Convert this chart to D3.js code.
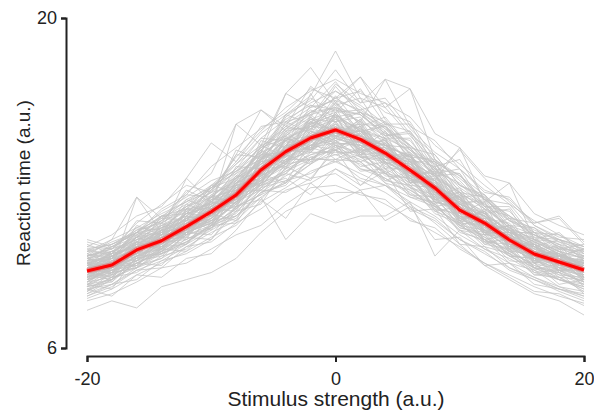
<!DOCTYPE html>
<html>
<head>
<meta charset="utf-8">
<script src="https://cdn.jsdelivr.net/npm/d3@7"></script>
<style>
  html, body { margin: 0; padding: 0; background: #fff; }
  svg { display: block; }
  text { font-family: "Liberation Sans", Arial, Helvetica, sans-serif; fill: #222; }
</style>
</head>
<body>
<svg id="chart" width="594" height="411"></svg>
<script>
// Stimulus levels (a.u.)
const stimulus = [-20, -18, -16, -14, -12, -10, -8, -6, -4, -2, 0, 2, 4, 6, 8, 10, 12, 14, 16, 18, 20];

// Average reaction time across trials
const meanRT = [9.27, 9.52, 10.16, 10.55, 11.15, 11.78, 12.49, 13.55, 14.33, 14.91, 15.25,
                14.85, 14.27, 13.55, 12.79, 11.85, 11.30, 10.58, 9.99, 9.65, 9.31];

// Single-trial reaction times, one row per trial
const trialRT = [
  [9.6, 9.9, 10.3, 11.0, 11.4, 12.3, 12.8, 14.0, 14.6, 15.5, 15.9, 15.2, 14.8, 13.9, 13.3, 12.1, 11.7, 10.9, 10.4, 9.9, 9.6],
  [8.7, 9.1, 9.6, 10.1, 10.6, 11.2, 11.9, 12.8, 13.6, 14.1, 14.4, 14.0, 13.5, 12.9, 12.1, 11.3, 10.7, 10.1, 9.5, 9.2, 8.8],
  [9.3, 9.0, 10.5, 10.2, 11.6, 11.3, 12.9, 13.2, 14.9, 14.5, 15.8, 14.3, 14.9, 13.0, 13.2, 11.4, 11.8, 10.2, 10.3, 9.4, 9.5],
  [9.9, 10.2, 10.6, 11.2, 11.8, 12.4, 13.3, 14.2, 15.0, 15.7, 16.1, 15.6, 15.0, 14.3, 13.4, 12.6, 11.9, 11.1, 10.6, 10.1, 9.8],
  [8.4, 8.9, 9.5, 9.8, 10.4, 11.0, 11.6, 12.6, 13.3, 13.9, 14.2, 13.8, 13.2, 12.6, 11.9, 11.0, 10.5, 9.9, 9.3, 8.9, 8.6],
  [9.1, 9.7, 10.0, 10.8, 10.9, 11.9, 12.2, 13.9, 14.1, 15.3, 15.0, 15.2, 14.0, 13.8, 12.5, 12.0, 11.1, 10.8, 9.8, 9.9, 9.1],
  [9.5, 9.4, 10.4, 10.4, 11.3, 11.6, 12.7, 13.4, 14.6, 14.7, 15.5, 14.6, 14.5, 13.3, 13.0, 11.6, 11.5, 10.3, 10.2, 9.5, 9.4],
  [10.2, 10.4, 11.0, 11.5, 12.1, 12.8, 13.6, 14.5, 15.4, 16.0, 16.6, 16.0, 15.3, 14.6, 13.8, 12.8, 12.1, 11.4, 10.8, 10.4, 10.1],
  [8.1, 8.5, 9.1, 9.6, 10.1, 10.7, 11.2, 12.2, 12.8, 13.5, 13.9, 13.4, 12.9, 12.2, 11.6, 10.8, 10.2, 9.6, 9.0, 8.6, 8.2],
  [9.4, 9.8, 10.1, 10.7, 11.0, 11.9, 12.3, 13.7, 14.5, 16.8, 15.1, 14.9, 14.1, 13.7, 12.6, 11.9, 11.2, 10.7, 9.9, 9.8, 9.2],
  [9.0, 9.3, 9.9, 10.3, 10.9, 11.4, 12.1, 13.0, 13.9, 14.4, 14.9, 14.5, 13.8, 13.1, 12.4, 11.5, 10.9, 10.3, 9.7, 9.4, 9.0],
  [9.8, 9.6, 10.7, 10.9, 11.5, 12.3, 12.6, 14.1, 14.4, 15.4, 15.3, 15.5, 14.3, 14.0, 12.9, 12.3, 11.4, 11.0, 10.1, 10.0, 9.5],
  [8.8, 9.4, 9.8, 10.6, 10.7, 11.7, 12.0, 13.3, 13.8, 14.9, 14.6, 14.8, 13.6, 13.6, 12.2, 11.9, 10.8, 10.7, 9.6, 9.7, 8.9],
  [9.6, 10.0, 10.3, 10.9, 11.7, 12.0, 13.0, 13.6, 14.8, 15.0, 15.7, 15.0, 14.7, 13.7, 13.1, 12.0, 11.6, 10.8, 10.3, 9.8, 9.6],
  [9.2, 9.5, 10.0, 10.4, 11.2, 11.5, 12.4, 12.9, 13.2, 12.5, 13.6, 12.9, 13.9, 12.8, 12.3, 11.7, 11.1, 10.4, 9.8, 9.5, 9.3],
  [9.7, 10.1, 10.7, 11.3, 11.9, 12.6, 13.5, 14.5, 15.5, 16.2, 16.5, 16.1, 15.4, 14.6, 13.6, 12.7, 12.0, 11.1, 10.6, 10.2, 9.9],
  [8.6, 8.8, 9.7, 9.9, 10.8, 11.1, 12.0, 12.5, 13.8, 14.0, 14.7, 13.7, 13.9, 12.5, 12.4, 11.2, 11.0, 9.9, 9.8, 9.0, 8.9],
  [9.3, 9.7, 10.2, 10.6, 11.1, 11.9, 12.6, 13.5, 14.4, 15.1, 15.4, 14.8, 14.4, 13.4, 12.9, 11.8, 11.4, 10.5, 10.1, 9.6, 9.3],
  [10.0, 9.8, 10.9, 11.1, 11.9, 12.1, 13.2, 13.9, 15.3, 15.3, 16.3, 15.2, 15.4, 14.0, 13.7, 12.2, 12.2, 10.9, 10.7, 9.9, 9.9],
  [8.9, 9.2, 9.7, 10.2, 10.8, 11.5, 12.3, 13.3, 13.9, 14.6, 14.9, 14.6, 13.9, 13.4, 12.5, 11.6, 10.9, 10.3, 9.7, 9.3, 8.9],
  [9.9, 10.3, 10.9, 11.4, 12.3, 12.8, 13.9, 15.1, 15.9, 16.7, 18.6, 16.6, 16.2, 15.0, 13.9, 13.3, 12.3, 11.4, 10.9, 10.3, 10.0],
  [9.4, 9.9, 10.4, 11.0, 13.2, 12.2, 13.2, 14.3, 16.8, 17.9, 16.4, 17.5, 15.7, 14.4, 13.3, 12.5, 11.7, 11.0, 10.4, 9.9, 9.5],
  [9.1, 9.4, 12.4, 10.9, 11.7, 12.0, 15.5, 16.1, 15.2, 15.9, 16.2, 15.6, 17.4, 17.0, 14.0, 13.1, 12.0, 11.1, 10.3, 9.8, 9.3],
  [9.6, 9.5, 10.3, 10.6, 11.4, 11.7, 13.0, 13.6, 14.7, 14.9, 15.9, 15.0, 14.6, 14.1, 13.1, 14.5, 12.2, 13.0, 10.6, 10.1, 9.4],
  [8.5, 9.0, 9.4, 10.0, 10.5, 11.1, 11.8, 12.7, 13.5, 14.0, 14.5, 14.1, 13.4, 12.7, 12.0, 11.2, 10.6, 10.0, 9.4, 9.0, 8.5],
  [7.6, 8.0, 7.7, 8.6, 8.9, 9.2, 9.8, 10.9, 11.8, 12.3, 12.6, 12.6, 12.1, 11.5, 10.9, 10.3, 9.6, 9.1, 8.6, 8.2, 7.9],
  [8.9, 9.1, 9.6, 10.0, 10.5, 11.2, 11.6, 12.4, 10.6, 11.7, 11.3, 11.6, 11.6, 12.2, 9.9, 11.0, 10.2, 9.8, 9.2, 8.9, 8.6],
  [9.0, 9.3, 9.7, 10.3, 10.9, 11.3, 12.2, 13.1, 13.7, 14.2, 14.4, 13.9, 13.0, 12.1, 11.3, 10.4, 9.5, 8.9, 8.3, 8.0, 7.4],
  [9.8, 10.0, 10.8, 11.2, 11.6, 12.5, 13.1, 14.3, 14.8, 15.7, 15.6, 15.8, 14.6, 14.5, 13.3, 12.6, 11.5, 11.3, 10.2, 10.3, 9.7],
  [8.7, 9.3, 9.5, 10.3, 10.4, 11.3, 11.7, 13.0, 13.4, 14.5, 14.2, 14.4, 13.3, 13.2, 11.9, 11.7, 10.5, 10.4, 9.2, 9.3, 8.7],
  [9.5, 9.8, 10.2, 10.8, 11.3, 11.8, 12.6, 13.4, 14.2, 15.0, 15.3, 15.2, 14.9, 14.4, 13.6, 12.9, 12.5, 11.5, 11.3, 11.5, 10.4],
  [9.2, 9.6, 10.1, 10.7, 11.0, 11.8, 12.4, 13.2, 14.1, 14.6, 15.4, 15.0, 14.6, 14.1, 13.4, 14.4, 13.2, 12.2, 11.2, 10.6, 10.2],
  [10.1, 10.6, 11.1, 11.7, 12.2, 12.7, 13.8, 14.6, 15.6, 15.9, 16.9, 16.3, 15.5, 15.2, 13.9, 13.2, 12.3, 11.6, 10.9, 10.6, 10.3],
  [8.3, 8.7, 9.3, 9.7, 10.3, 10.9, 11.4, 12.4, 13.1, 13.4, 14.0, 13.2, 12.9, 12.0, 11.5, 10.6, 10.0, 9.4, 8.9, 8.5, 8.1],
  [9.4, 9.6, 10.5, 10.5, 11.4, 11.9, 12.5, 13.8, 14.2, 15.2, 14.8, 15.1, 14.0, 13.5, 12.7, 11.8, 11.4, 10.5, 10.0, 9.7, 9.2],
  [9.0, 9.6, 9.9, 10.5, 11.0, 11.5, 12.7, 13.1, 14.6, 14.4, 15.6, 14.2, 14.7, 13.2, 12.8, 11.4, 11.2, 10.4, 9.8, 9.3, 9.3],
  [9.7, 9.9, 10.4, 10.9, 11.2, 12.1, 12.6, 13.7, 14.1, 15.2, 15.0, 14.7, 14.2, 13.9, 12.6, 12.2, 11.3, 10.9, 9.9, 9.9, 9.5],
  [8.8, 9.0, 9.8, 10.1, 10.9, 11.3, 12.1, 13.0, 13.5, 14.2, 14.6, 14.2, 13.6, 13.0, 12.3, 11.4, 10.7, 10.1, 9.5, 9.1, 8.7],
  [10.0, 10.5, 10.9, 11.6, 11.9, 12.9, 13.4, 14.6, 15.0, 16.0, 16.2, 15.9, 15.1, 14.8, 13.5, 13.0, 11.9, 11.6, 10.6, 10.5, 9.9],
  [9.3, 9.2, 10.2, 10.3, 11.0, 11.4, 12.5, 13.0, 14.4, 14.3, 15.2, 14.2, 14.3, 12.9, 12.8, 11.3, 11.2, 10.1, 10.0, 9.3, 9.4],
  [9.5, 10.0, 10.3, 11.1, 11.4, 12.4, 12.7, 14.2, 14.3, 15.6, 15.2, 15.4, 14.1, 14.2, 12.8, 12.4, 11.3, 11.0, 10.0, 10.0, 9.4],
  [8.6, 9.2, 9.4, 10.1, 10.5, 11.2, 11.9, 12.9, 13.4, 14.3, 14.3, 14.3, 13.4, 13.2, 12.0, 11.6, 10.6, 10.2, 9.4, 9.2, 8.8],
  [9.9, 10.1, 10.6, 11.0, 11.7, 12.2, 13.1, 13.8, 14.9, 15.4, 15.8, 15.3, 14.9, 13.9, 13.3, 12.3, 11.7, 10.9, 10.4, 9.9, 9.7],
  [9.1, 9.5, 9.8, 10.4, 11.2, 11.6, 12.4, 13.3, 14.3, 14.5, 15.0, 14.4, 14.2, 13.3, 12.7, 11.6, 11.3, 10.4, 10.0, 9.4, 9.2],
  [9.6, 9.8, 10.5, 10.8, 11.3, 12.1, 12.9, 13.9, 14.8, 15.5, 15.9, 15.2, 14.5, 14.2, 12.9, 12.4, 11.3, 11.0, 10.2, 9.9, 9.6],
  [8.9, 9.4, 9.9, 10.4, 11.0, 11.6, 12.5, 13.1, 14.0, 14.8, 15.0, 14.7, 14.0, 13.2, 12.6, 11.6, 11.0, 10.2, 9.8, 9.5, 9.0],
  [9.4, 9.7, 10.6, 10.7, 11.2, 12.0, 12.6, 13.6, 14.2, 14.8, 15.3, 14.8, 14.3, 13.6, 12.8, 11.9, 11.4, 10.7, 10.0, 9.7, 9.3],
  [9.2, 9.4, 10.0, 10.6, 11.1, 11.8, 12.3, 13.5, 14.5, 14.9, 15.1, 15.0, 14.4, 13.5, 12.9, 11.9, 11.3, 10.6, 9.9, 9.6, 9.4],
  [9.8, 10.3, 10.7, 11.1, 11.6, 12.2, 13.2, 13.8, 14.5, 15.3, 15.7, 15.3, 14.5, 13.8, 13.1, 12.1, 11.6, 10.8, 10.3, 9.9, 9.7],
  [8.7, 8.9, 9.8, 10.0, 10.8, 11.2, 12.2, 12.9, 14.0, 14.0, 14.8, 14.1, 13.9, 12.8, 12.5, 11.1, 10.9, 9.9, 9.8, 9.1, 9.0],
  [9.3, 9.9, 10.4, 11.0, 11.3, 12.0, 12.7, 13.8, 14.4, 15.0, 15.5, 14.9, 14.6, 13.7, 12.8, 12.1, 11.2, 10.7, 10.2, 9.8, 9.4],
  [9.0, 9.2, 9.9, 10.2, 11.0, 11.5, 12.2, 13.2, 13.8, 14.5, 14.7, 14.6, 13.9, 13.3, 12.6, 11.5, 11.0, 10.4, 9.6, 9.3, 9.1],
  [10.3, 10.2, 11.0, 11.3, 12.0, 12.4, 13.4, 14.0, 15.2, 15.4, 16.4, 15.5, 15.4, 14.4, 13.8, 12.5, 12.1, 11.2, 10.8, 10.2, 10.1],
  [8.4, 9.0, 9.2, 9.9, 10.2, 11.1, 11.5, 12.6, 13.0, 14.0, 14.0, 13.9, 13.1, 12.9, 11.7, 11.3, 10.3, 10.0, 9.1, 9.0, 8.4],
  [9.5, 9.6, 10.2, 10.7, 11.5, 11.7, 12.8, 13.4, 14.6, 14.8, 15.6, 14.7, 14.8, 13.5, 13.1, 11.8, 11.6, 10.6, 10.3, 9.6, 9.6],
  [8.6, 9.9, 9.4, 11.0, 10.6, 12.2, 11.9, 14.1, 13.6, 15.6, 14.7, 15.3, 13.8, 14.0, 12.3, 12.4, 10.8, 11.1, 9.6, 10.1, 8.9],
  [9.9, 9.1, 10.8, 10.0, 11.8, 11.2, 13.1, 12.9, 15.0, 14.3, 15.9, 14.2, 14.9, 13.0, 13.4, 11.3, 11.9, 10.0, 10.5, 9.2, 9.8],
  [9.2, 10.1, 9.8, 11.3, 10.9, 12.5, 12.1, 14.3, 13.9, 15.8, 14.9, 15.6, 14.0, 14.2, 12.5, 12.6, 10.9, 11.2, 9.7, 10.3, 9.0],
  [8.3, 8.9, 9.6, 9.5, 10.7, 10.6, 12.0, 12.3, 13.4, 13.1, 14.6, 13.5, 13.6, 12.4, 12.2, 10.9, 10.6, 9.6, 9.3, 8.6, 8.4],
  [10.0, 9.6, 11.2, 10.8, 12.3, 11.9, 13.7, 13.6, 15.6, 15.1, 16.4, 15.0, 15.5, 13.9, 13.9, 12.1, 12.3, 10.9, 10.9, 9.9, 10.2],
  [9.4, 8.8, 10.0, 10.9, 10.7, 12.0, 12.9, 13.0, 14.9, 14.4, 15.2, 15.5, 13.8, 14.2, 12.3, 12.6, 10.9, 10.9, 9.6, 10.0, 9.1],
  [8.9, 9.8, 10.5, 10.1, 11.6, 11.4, 12.6, 14.2, 13.8, 15.5, 14.6, 14.3, 14.7, 13.1, 13.3, 11.5, 11.7, 10.3, 10.4, 9.3, 9.6],
  [9.7, 9.3, 9.9, 11.0, 11.0, 12.3, 12.3, 13.3, 15.1, 14.5, 16.0, 14.8, 14.6, 14.1, 12.6, 12.4, 10.9, 11.2, 9.8, 10.2, 9.0],
  [9.1, 9.9, 10.7, 10.3, 11.9, 11.6, 13.0, 13.9, 14.2, 15.8, 14.8, 15.4, 13.9, 13.4, 13.1, 11.4, 11.8, 10.2, 10.6, 9.4, 9.7],
  [8.5, 8.7, 9.4, 10.2, 10.1, 11.2, 11.3, 12.8, 13.1, 13.8, 14.6, 13.6, 13.4, 12.8, 11.8, 11.4, 10.4, 10.2, 9.1, 9.2, 8.3],
  [10.4, 10.0, 10.9, 11.6, 11.7, 12.8, 13.2, 14.4, 15.4, 15.2, 16.7, 15.4, 15.8, 14.5, 14.2, 12.9, 12.4, 11.6, 11.0, 10.6, 10.3],
  [9.0, 9.6, 10.0, 10.2, 11.5, 11.0, 12.8, 12.9, 14.0, 14.6, 14.4, 15.1, 13.7, 13.5, 12.4, 12.3, 10.8, 10.9, 9.6, 9.9, 8.8],
  [9.6, 9.2, 10.6, 10.9, 11.1, 12.4, 12.1, 14.0, 14.4, 15.7, 15.2, 14.4, 14.5, 13.3, 13.5, 11.5, 11.8, 10.3, 10.4, 9.5, 9.8],
  [8.8, 9.5, 9.5, 10.6, 10.4, 11.6, 12.3, 12.8, 14.2, 13.8, 15.3, 14.1, 14.2, 13.2, 12.2, 11.9, 10.6, 10.8, 9.4, 9.8, 8.9],
  [9.5, 10.3, 10.2, 11.6, 11.4, 12.9, 12.6, 14.8, 14.5, 16.3, 15.8, 16.0, 14.9, 14.9, 13.3, 13.4, 11.7, 11.9, 10.3, 10.6, 9.7],
  [8.2, 8.6, 9.3, 9.4, 10.3, 10.5, 11.3, 11.9, 12.7, 13.0, 13.6, 13.1, 12.6, 11.9, 11.4, 10.6, 10.1, 9.3, 8.9, 8.4, 8.0],
  [9.8, 9.4, 10.3, 10.7, 11.7, 11.6, 12.4, 13.5, 14.0, 14.3, 15.4, 14.1, 14.0, 13.9, 12.3, 12.1, 11.6, 10.4, 10.3, 9.5, 9.9],
  [9.3, 10.0, 10.9, 10.4, 11.1, 12.2, 13.3, 13.1, 14.6, 15.6, 14.9, 15.7, 14.8, 13.2, 13.6, 12.0, 11.0, 11.2, 9.7, 10.0, 9.2],
  [8.7, 8.5, 9.9, 10.0, 10.4, 11.7, 11.4, 13.4, 13.0, 14.8, 14.0, 14.5, 13.1, 13.5, 11.8, 12.0, 10.4, 10.7, 9.3, 9.6, 8.6],
  [10.1, 10.4, 10.8, 11.4, 12.5, 12.4, 14.2, 14.1, 15.9, 15.5, 17.1, 15.9, 15.0, 15.1, 13.4, 13.6, 12.0, 12.0, 10.6, 10.9, 10.0],
  [9.2, 9.3, 10.1, 10.8, 10.8, 11.9, 11.8, 13.6, 13.7, 14.7, 16.2, 14.4, 15.2, 13.0, 13.7, 11.7, 12.2, 10.1, 10.6, 9.2, 9.6],
  [8.9, 9.7, 10.3, 10.5, 11.4, 11.2, 12.9, 13.2, 14.8, 13.9, 15.0, 15.4, 13.6, 14.2, 12.1, 12.5, 11.0, 10.9, 9.8, 10.1, 9.4],
  [9.6, 9.1, 10.5, 10.2, 11.9, 11.9, 13.1, 14.4, 13.8, 15.2, 14.5, 14.9, 14.6, 13.2, 12.7, 12.0, 11.3, 10.4, 10.1, 9.4, 9.1],
  [9.0, 9.8, 9.7, 10.7, 10.9, 11.5, 12.7, 13.0, 14.3, 14.9, 15.8, 14.3, 14.0, 13.8, 12.9, 11.5, 11.6, 10.6, 9.8, 9.9, 9.3],
  [8.6, 8.9, 9.6, 10.1, 10.9, 11.4, 11.6, 12.6, 12.9, 14.1, 13.9, 14.2, 13.0, 12.7, 12.1, 11.1, 10.8, 10.0, 9.6, 8.9, 8.5],
  [10.2, 9.9, 10.7, 11.5, 11.4, 12.7, 13.5, 14.0, 15.3, 16.1, 15.6, 16.0, 15.2, 14.1, 14.0, 12.6, 12.4, 11.2, 11.1, 10.2, 10.4],
  [9.4, 10.1, 10.2, 10.9, 12.1, 11.7, 13.0, 13.3, 13.9, 15.0, 14.7, 14.6, 14.1, 14.3, 12.4, 12.8, 11.1, 11.5, 10.0, 10.4, 9.2],
  [9.1, 8.9, 10.4, 10.3, 11.2, 12.2, 12.0, 14.0, 14.8, 14.4, 16.0, 14.7, 14.4, 13.0, 13.1, 11.2, 11.5, 10.3, 9.9, 9.7, 9.5],
  [8.8, 9.4, 9.7, 10.5, 10.6, 11.1, 12.6, 12.7, 13.6, 14.6, 14.8, 13.9, 14.3, 13.3, 12.0, 12.2, 10.5, 10.6, 9.4, 9.3, 8.8],
  [9.7, 9.8, 10.9, 10.8, 11.8, 12.1, 12.4, 14.6, 14.1, 15.9, 15.0, 15.7, 14.1, 14.0, 13.0, 12.1, 11.7, 10.9, 10.5, 10.0, 9.6],
  [9.3, 9.5, 10.0, 11.2, 10.8, 12.0, 12.8, 13.5, 15.2, 14.4, 15.5, 14.5, 14.8, 13.9, 12.6, 12.3, 11.0, 10.7, 10.0, 9.6, 9.5],
  [8.4, 9.2, 9.4, 9.8, 10.9, 10.8, 12.0, 12.5, 13.0, 13.8, 14.4, 13.6, 13.2, 12.5, 12.1, 11.0, 10.8, 9.7, 9.6, 8.7, 8.9],
  [9.9, 10.2, 11.1, 11.0, 12.0, 12.6, 12.9, 14.5, 14.9, 15.3, 16.5, 15.1, 15.6, 14.2, 13.9, 12.4, 12.5, 11.0, 10.8, 10.3, 9.9],
  [9.2, 9.0, 10.2, 10.6, 10.9, 11.8, 12.4, 13.1, 13.8, 15.1, 14.4, 14.8, 13.4, 13.9, 12.2, 12.0, 10.9, 10.8, 9.7, 9.9, 9.0],
  [9.5, 10.0, 10.3, 10.8, 11.5, 11.8, 13.3, 13.3, 14.9, 14.6, 15.1, 15.2, 14.1, 13.4, 13.4, 11.7, 11.5, 10.5, 10.4, 9.5, 9.7],
  [10.3, 10.8, 11.6, 12.0, 13.2, 14.7, 13.9, 15.4, 15.6, 16.4, 16.9, 16.2, 15.3, 14.2, 13.1, 12.4, 11.6, 11.0, 10.5, 10.1, 9.8],
  [9.9, 10.6, 12.4, 11.5, 12.6, 13.4, 15.5, 14.6, 16.8, 16.2, 17.3, 16.0, 15.6, 14.6, 13.5, 12.3, 11.8, 10.9, 10.6, 9.9, 10.2],
  [10.5, 10.2, 11.3, 12.1, 12.9, 12.6, 14.2, 16.1, 15.4, 17.1, 16.3, 16.6, 15.0, 15.2, 13.6, 13.4, 12.0, 11.8, 10.7, 10.6, 10.0],
  [9.6, 9.9, 10.5, 11.1, 11.6, 12.4, 13.2, 14.4, 15.3, 16.0, 16.6, 17.5, 16.2, 17.0, 15.1, 14.5, 13.3, 13.0, 11.7, 11.2, 10.8],
  [9.4, 9.7, 10.3, 10.7, 11.5, 12.2, 13.0, 14.0, 15.1, 15.8, 17.2, 16.4, 17.4, 15.4, 14.8, 13.6, 12.7, 12.3, 11.3, 11.6, 10.5],
  [8.0, 8.3, 8.8, 9.4, 9.6, 10.2, 10.8, 11.2, 12.1, 12.8, 12.9, 12.5, 12.3, 11.4, 11.1, 10.2, 9.6, 9.0, 8.4, 8.3, 7.8],
  [8.5, 8.2, 9.1, 9.0, 9.8, 10.0, 11.0, 12.3, 11.5, 13.0, 12.2, 12.7, 11.4, 12.0, 10.6, 10.7, 9.5, 9.6, 8.7, 8.5, 8.2],
  [9.0, 9.4, 10.1, 10.8, 11.7, 12.7, 14.1, 15.2, 16.2, 16.9, 17.4, 16.8, 16.4, 15.1, 14.2, 12.9, 12.3, 11.5, 10.8, 10.4, 9.8],
  [9.7, 10.4, 10.9, 11.9, 12.5, 13.7, 14.5, 15.3, 16.0, 17.0, 16.6, 16.9, 16.0, 15.6, 14.0, 13.3, 12.5, 11.4, 11.1, 10.5, 10.2],
  [8.9, 9.3, 9.6, 10.2, 10.9, 11.3, 12.2, 12.7, 12.6, 13.2, 13.4, 12.7, 12.9, 12.4, 12.0, 11.2, 10.6, 9.9, 9.4, 8.9, 8.7],
  [10.1, 10.0, 11.4, 11.3, 12.7, 12.2, 14.4, 14.0, 15.8, 16.6, 16.0, 17.0, 15.5, 15.5, 13.7, 14.0, 12.3, 12.1, 10.9, 10.8, 10.1],
  [9.3, 9.8, 10.7, 11.6, 12.2, 12.9, 13.8, 14.9, 15.7, 16.3, 16.1, 15.9, 15.1, 14.5, 13.2, 12.6, 11.9, 11.2, 10.5, 10.0, 9.6],
  [8.2, 8.7, 8.9, 9.7, 10.0, 10.6, 11.8, 12.1, 13.7, 13.2, 14.4, 12.9, 13.5, 11.8, 11.9, 10.4, 10.3, 9.4, 9.0, 8.5, 8.3],
  [9.8, 10.1, 10.5, 11.4, 12.0, 12.8, 13.6, 14.9, 14.8, 15.6, 16.0, 16.1, 16.4, 15.8, 14.6, 13.8, 12.9, 12.1, 11.4, 10.8, 10.3],
  [10.6, 10.3, 10.9, 11.8, 12.4, 13.1, 13.5, 14.3, 15.9, 16.5, 17.8, 16.4, 16.6, 15.3, 14.3, 13.6, 12.6, 12.4, 11.2, 10.7, 10.6]
];

const xTicks = [-20, 0, 20];
const yTicks = [6, 20];

const svg = d3.select("#chart");

const x = d3.scaleLinear().domain([-20, 20]).range([87, 584]);
const y = d3.scaleLinear().domain([6, 20]).range([348, 18]);

const line = d3.line()
  .x((d, i) => x(stimulus[i]))
  .y(d => y(d));

// individual trials
svg.append("g")
  .selectAll("path")
  .data(trialRT)
  .join("path")
  .attr("d", line)
  .attr("fill", "none")
  .attr("stroke", "#c4c4c4")
  .attr("stroke-opacity", 0.78)
  .attr("stroke-width", 1)
  .attr("stroke-linejoin", "miter");

// mean curve with a soft halo
svg.append("path")
  .datum(meanRT)
  .attr("d", line)
  .attr("fill", "none")
  .attr("stroke", "#ff0000")
  .attr("stroke-opacity", 0.3)
  .attr("stroke-width", 5.5)
  .attr("stroke-linejoin", "round");

svg.append("path")
  .datum(meanRT)
  .attr("d", line)
  .attr("fill", "none")
  .attr("stroke", "#ff0000")
  .attr("stroke-width", 3)
  .attr("stroke-linejoin", "round");

// axes
const xAxis = svg.append("g")
  .attr("transform", "translate(0,356)")
  .call(d3.axisBottom(x).tickValues(xTicks).tickFormat(d => String(d)).tickSize(6).tickPadding(10));

const yAxis = svg.append("g")
  .attr("transform", "translate(66,0)")
  .call(d3.axisLeft(y).tickValues(yTicks).tickFormat(d => String(d)).tickSize(5).tickPadding(4));

[xAxis, yAxis].forEach(g => {
  g.select(".domain").attr("stroke", "#222").attr("stroke-width", 2);
  g.selectAll(".tick line").attr("stroke", "#222").attr("stroke-width", 2);
  g.selectAll(".tick text")
    .attr("fill", "#222")
    .style("font-size", "18px")
    .style("font-family", "'Liberation Sans', Arial, sans-serif");
});

// axis titles
svg.append("text")
  .attr("x", 336)
  .attr("y", 406)
  .attr("text-anchor", "middle")
  .style("font-size", "21px")
  .text("Stimulus strength (a.u.)");

svg.append("text")
  .attr("transform", "translate(30,183) rotate(-90)")
  .attr("text-anchor", "middle")
  .style("font-size", "19px")
  .text("Reaction time (a.u.)");
</script>
</body>
</html>
